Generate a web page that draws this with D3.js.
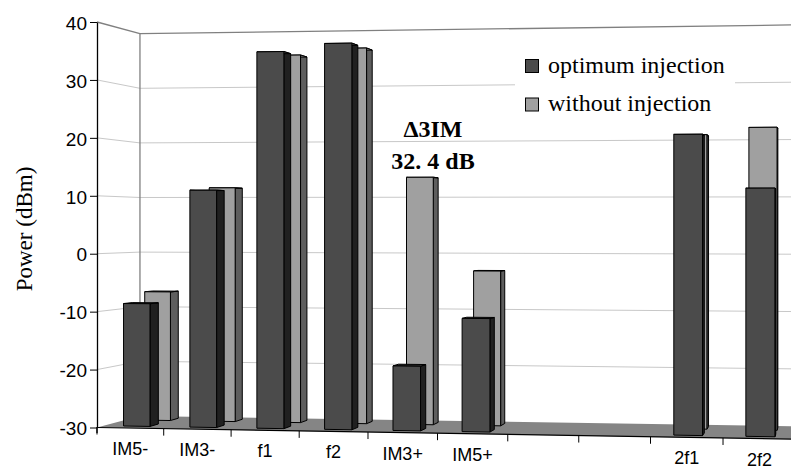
<!DOCTYPE html>
<html>
<head>
<meta charset="utf-8">
<script src="https://cdn.jsdelivr.net/npm/d3@7"></script>
<style>
  html, body { margin: 0; padding: 0; background: #fff; }
  svg { display: block; }
</style>
</head>
<body>
<svg id="chart" width="791" height="469"></svg>
<script>
// Spectral components at the amplifier output
const categories = ["IM5-", "IM3-", "f1", "f2", "IM3+", "IM5+", "", "", "2f1", "2f2"];
const seriesNames = ["optimum injection", "without injection"];
const optimumInjection = [-8.7, 11.0, 34.8, 36.1, -19.0, -10.8, null, null, 20.2, 11.2];
const withoutInjection = [-7.0, 11.6, 35.1, 36.2, 13.4, -3.0, null, null, 20.6, 21.8];
const yTicks = [-30, -20, -10, 0, 10, 20, 30, 40];
const annotationLines = ["\u03943IM", "32. 4 dB"];

const svg = d3.select("#chart");

// Value scale on the front plane, category/depth scales in world units
const yMin = -30, yMax = 40;
const yScale = d3.scaleLinear().domain([yMin, yMax]).range([427.5, 22]);
const nCat = categories.length;
const xWorld = d3.scaleLinear().domain([0, nCat]).range([97, 97 + 65.87 * nCat]);
const xBand = d3.scaleBand().domain(d3.range(nCat)).range([0, nCat])
  .paddingInner(0.6).paddingOuter(0.3);
const zBand = d3.scaleBand().domain(seriesNames).range([0, 1])
  .paddingInner(0.6).paddingOuter(0.3);

// Perspective camera: depth pushes points right/up, the far left recedes
const cam = { persX: -0.0051, persZ: 0.061, depthDx: 51.5, depthDy: 13.76, tilt: -1.07 };
function project(X, v, Z) {
  const w = 1 + cam.persX * X + cam.persZ * Z;
  const px = xWorld(X) + cam.depthDx * Z;
  const py = yScale(v) + cam.tilt * X + cam.depthDy * Z;
  return [px / w, py / w];
}
const poly = pts => "M" + pts.map(p => project(p[0], p[1], p[2]).join(",")).join("L") + "Z";
const seg = (a, b) => { const p = project(...a), q = project(...b); return { x1: p[0], y1: p[1], x2: q[0], y2: q[1] }; };

const font = "'Liberation Sans', Arial, sans-serif";
const serif = "'Liberation Serif', 'Times New Roman', Times, serif";

// Floor
svg.append("path")
  .attr("d", poly([[0, yMin, 0], [nCat, yMin, 0], [nCat, yMin, 1], [0, yMin, 1]]))
  .attr("fill", "#858585");
{
  const s = seg([0, yMin, 0], [nCat, yMin, 0]);
  svg.append("line").attr("x1", s.x1).attr("y1", s.y1).attr("x2", s.x2).attr("y2", s.y2)
    .attr("stroke", "#000").attr("stroke-width", 1.2);
}

// Gridlines on the side and back walls
const grid = svg.append("g");
yTicks.filter(v => v > yMin).forEach(v => {
  const col = v === yMax ? "#808080" : "#c8c8c8";
  const w = v === yMax ? 1.3 : 1;
  [seg([0, v, 0], [0, v, 1]), seg([0, v, 1], [nCat, v, 1])].forEach(s => {
    grid.append("line").attr("x1", s.x1).attr("y1", s.y1).attr("x2", s.x2).attr("y2", s.y2)
      .attr("stroke", col).attr("stroke-width", w);
  });
});
{
  const s = seg([0, yMin, 1], [0, yMax, 1]);
  grid.append("line").attr("x1", s.x1).attr("y1", s.y1).attr("x2", s.x2).attr("y2", s.y2)
    .attr("stroke", "#808080").attr("stroke-width", 1.3);
}

// Bars: back series first so the front series overlaps it
const seriesData = [optimumInjection, withoutInjection];
const styles = [
  { front: "#4b4b4b", side: "#202020", top: "#3a3a3a" },
  { front: "#a0a0a0", side: "#5e5e5e", top: "#8c8c8c" }
];
const bars = svg.append("g");
[1, 0].forEach(si => {
  const z0 = zBand(seriesNames[si]), z1 = z0 + zBand.bandwidth();
  seriesData[si].forEach((v, i) => {
    if (v == null) return;
    const x0 = xBand(i), x1 = x0 + xBand.bandwidth();
    const st = styles[si];
    const g = bars.append("g").attr("stroke", "#000").attr("stroke-width", 1).attr("stroke-linejoin", "round");
    g.append("path").attr("fill", st.side)
      .attr("d", poly([[x1, yMin, z0], [x1, yMin, z1], [x1, v, z1], [x1, v, z0]]));
    g.append("path").attr("fill", st.top)
      .attr("d", poly([[x0, v, z0], [x1, v, z0], [x1, v, z1], [x0, v, z1]]));
    g.append("path").attr("fill", st.front)
      .attr("d", poly([[x0, yMin, z0], [x1, yMin, z0], [x1, v, z0], [x0, v, z0]]));
  });
});

// Value axis
const yAxis = svg.append("g").attr("transform", "translate(97,0)")
  .call(d3.axisLeft(yScale).tickValues(yTicks).tickFormat(d => String(d))
    .tickSize(7).tickPadding(3).tickSizeOuter(0));
yAxis.select(".domain").attr("stroke", "#000").attr("stroke-width", 1.3);
yAxis.selectAll(".tick line").attr("stroke", "#000");
yAxis.selectAll("text").attr("font-family", font).attr("font-size", 19).attr("fill", "#000").attr("dy", "0.38em");
svg.append("line").attr("x1", 97).attr("x2", 97).attr("y1", 427).attr("y2", 433)
  .attr("stroke", "#000").attr("stroke-width", 1.3);

// Category ticks and labels along the front floor edge
const xAxis = svg.append("g");
d3.range(nCat + 1).forEach(k => {
  const p = project(k, yMin, 0);
  xAxis.append("line").attr("x1", p[0]).attr("x2", p[0]).attr("y1", p[1]).attr("y2", p[1] + 7)
    .attr("stroke", "#000");
});
categories.forEach((c, i) => {
  const p = project(xBand(i) + xBand.bandwidth() / 2, yMin, 0);
  xAxis.append("text").attr("x", p[0]).attr("y", p[1] + 27)
    .attr("text-anchor", "middle").attr("font-family", font).attr("font-size", 18).text(c);
});

// Axis title
svg.append("text").attr("transform", "translate(32,229) rotate(-90)")
  .attr("text-anchor", "middle").attr("font-family", serif).attr("font-size", 23)
  .text("Power (dBm)");

// Annotation above the IM3+ pair
const ann = svg.append("g").attr("font-family", serif).attr("font-weight", "bold")
  .attr("font-size", 24).attr("text-anchor", "middle");
annotationLines.forEach((t, k) => {
  ann.append("text").attr("x", 433).attr("y", 137 + k * 31.5).text(t);
});

// Legend
const legend = svg.append("g");
legend.append("rect").attr("x", 515).attr("y", 48).attr("width", 220).attr("height", 76).attr("fill", "#fff");
seriesNames.forEach((name, k) => {
  legend.append("rect").attr("x", 525.5).attr("y", 59.5 + k * 38.5).attr("width", 13).attr("height", 13)
    .attr("fill", styles[k].front).attr("stroke", "#000").attr("stroke-width", 1);
  legend.append("text").attr("x", 548).attr("y", 72.5 + k * 38.5)
    .attr("font-family", serif).attr("font-size", 24).text(name);
});
</script>
</body>
</html>
